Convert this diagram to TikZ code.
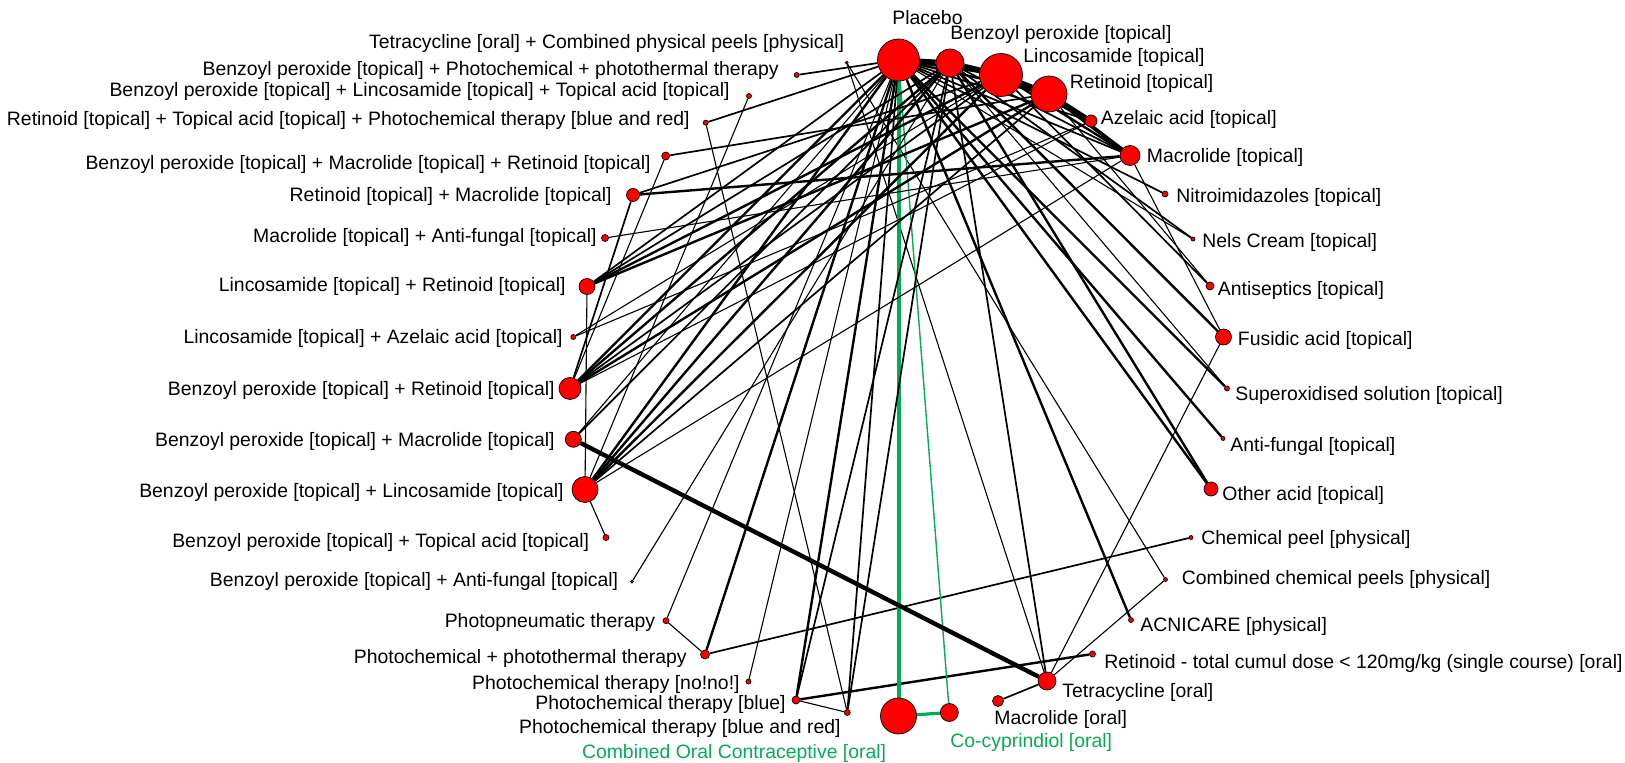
\documentclass[tikz,border=0pt]{standalone}
\usepackage{fontspec}
\setmainfont{Liberation Sans}
\usepackage{xcolor}
\definecolor{nwred}{RGB}{255,0,0}
\definecolor{nwgreen}{RGB}{0,176,80}
\usepackage{tikz}
\usetikzlibrary{backgrounds}
\newcommand{\trtfont}{\fontsize{9.7}{11}\selectfont}

\begin{document}
\begin{tikzpicture}[x=0.5pt, y=-0.5pt,
  trt/.style={circle, fill=nwred, draw=black, line width=0.35pt, inner sep=0pt, minimum size=#1},
  lbl/.style={font=\trtfont, inner sep=0pt},
  lbR/.style={lbl, anchor=west},
  lbL/.style={lbl, anchor=east},
  e1/.style={line width=0.55pt},
  e2/.style={line width=0.85pt},
  e3/.style={line width=1.2pt},
  e4/.style={line width=1.9pt},
  eg/.style={nwgreen}]
  \useasboundingbox (0,0) rectangle (1625,763);

  % --- Top hubs ---
  \node[trt=21pt] (P)  at (898.5,60)  {};
  \node[trt=14pt] (BP) at (950,63)    {};
  \node[trt=21.5pt] (L) at (1001,75)  {};
  \node[trt=18pt] (R)  at (1049,94)   {};
  \node[trt=6pt]  (Az) at (1091,121)  {};
  \node[trt=10pt] (M)  at (1130,155.5) {};
  \node[lbl] (P-l) at (927.5,17.5) {Placebo};
  \node[lbR] (BP-l) at (950,34.5)   {Benzoyl peroxide [topical]};
  \node[lbR] (L-l)  at (1023,57)    {Lincosamide [topical]};
  \node[lbR] (R-l)  at (1069.5,83)  {Retinoid [topical]};
  \node[lbR] (Az-l) at (1100.5,119.5) {Azelaic acid [topical]};
  \node[lbR] (M-l)  at (1146.5,157) {Macrolide [topical]};

  % --- Right side ---
  \node[trt=3pt]   (nit)   at (1165,194)    {};
  \node[trt=2pt]   (nel)   at (1193,239)    {};
  \node[trt=4pt]   (ant)   at (1210,286)    {};
  \node[trt=8pt]   (fus)   at (1223.5,337)  {};
  \node[trt=2.5pt] (sup)   at (1227,388.5)  {};
  \node[trt=2pt]   (aft)   at (1223,438.5)  {};
  \node[trt=7pt]   (oac)   at (1211,489)    {};
  \node[trt=2pt]   (cpeel) at (1191,537.5)  {};
  \node[trt=2pt]   (ccp)   at (1165.5,579.5) {};
  \node[trt=2.5pt] (acn)   at (1131,620)    {};
  \node[trt=3pt]   (rtot)  at (1092.5,654)  {};
  \node[trt=9pt]   (tetO)  at (1047,681)    {};
  \node[lbR] at (1176,197)    {Nitroimidazoles [topical]};
  \node[lbR] at (1202,242)    {Nels Cream [topical]};
  \node[lbR] at (1217.5,290)  {Antiseptics [topical]};
  \node[lbR] at (1237.5,340)  {Fusidic acid [topical]};
  \node[lbR] at (1235,395)    {Superoxidised solution [topical]};
  \node[lbR] at (1230,446.5)  {Anti-fungal [topical]};
  \node[lbR] at (1222,495.5)  {Other acid [topical]};
  \node[lbR] at (1201,539.5)  {Chemical peel [physical]};
  \node[lbR] at (1181.5,579)  {Combined chemical peels [physical]};
  \node[lbR] at (1140,626.5)  {ACNICARE [physical]};
  \node[lbR] at (1104,663)    {Retinoid - total cumul dose < 120mg/kg (single course) [oral]};
  \node[lbR] at (1062,692.5)  {Tetracycline [oral]};

  % --- Bottom ---
  \node[trt=5.5pt] (macO) at (998,701)     {};
  \node[trt=9pt]   (cocy) at (949.3,712.5) {};
  \node[trt=18pt]  (coc)  at (898.5,716)   {};
  \node[trt=3pt]   (pcbr) at (847.3,712.5) {};
  \node[trt=4pt]   (pcb)  at (796,700)     {};
  \node[trt=2.5pt] (nono) at (748.5,681.5) {};
  \node[trt=4.5pt] (pcpt) at (705,654.5)   {};
  \node[trt=3pt]   (ppn)  at (666,620.7)   {};
  \node[lbR] at (994,719.5) {Macrolide [oral]};
  \node[lbR, nwgreen] at (950,742) {Co-cyprindiol [oral]};
  \node[lbL, nwgreen] at (886.5,753) {Combined Oral Contraceptive [oral]};
  \node[lbL] at (841,728.5) {Photochemical therapy [blue and red]};
  \node[lbL] at (786,704.5) {Photochemical therapy [blue]};
  \node[lbL] at (740,684)   {Photochemical therapy [no!no!]};
  \node[lbL] at (687,658)   {Photochemical + photothermal therapy};
  \node[lbL] at (655.5,622) {Photopneumatic therapy};

  % --- Left side ---
  \node[trt=1.5pt] (bpaf) at (632,581.7)   {};
  \node[trt=3pt]   (bpta) at (606,537.5)   {};
  \node[trt=13pt]  (bpl)  at (585,489.5)   {};
  \node[trt=8pt]   (bpm)  at (573.3,439.3) {};
  \node[trt=11pt]  (bpr)  at (570,388.5)   {};
  \node[trt=2.5pt] (laz)  at (573.3,337)   {};
  \node[trt=8pt]   (lr)   at (587,286.5)   {};
  \node[trt=3.5pt] (maf)  at (605,238)     {};
  \node[trt=6.5pt] (rm)   at (633,195)     {};
  \node[trt=4pt]   (bpmr) at (665.7,156)   {};
  \node[trt=2.5pt] (rtap) at (705.7,122.7) {};
  \node[trt=2.5pt] (blta) at (749,96)      {};
  \node[trt=2.5pt] (bppt) at (796.7,75)    {};
  \node[trt=1.5pt] (tcp)  at (846.7,62.7)  {};
  \node[lbL] at (618.5,581) {Benzoyl peroxide [topical] + Anti-fungal [topical]};
  \node[lbL] at (589.5,542) {Benzoyl peroxide [topical] + Topical acid [topical]};
  \node[lbL] at (564,492.5) {Benzoyl peroxide [topical] + Lincosamide [topical]};
  \node[lbL] at (555,441)   {Benzoyl peroxide [topical] + Macrolide [topical]};
  \node[lbL] at (555,390)   {Benzoyl peroxide [topical] + Retinoid [topical]};
  \node[lbL] at (563,338)   {Lincosamide [topical] + Azelaic acid [topical]};
  \node[lbL] at (566,286)   {Lincosamide [topical] + Retinoid [topical]};
  \node[lbL] at (597,237)   {Macrolide [topical] + Anti-fungal [topical]};
  \node[lbL] at (612,196)   {Retinoid [topical] + Macrolide [topical]};
  \node[lbL] at (651,164.5) {Benzoyl peroxide [topical] + Macrolide [topical] + Retinoid [topical]};
  \node[lbL] at (690,120.5) {Retinoid [topical] + Topical acid [topical] + Photochemical therapy [blue and red]};
  \node[lbL] at (730,91)    {Benzoyl peroxide [topical] + Lincosamide [topical] + Topical acid [topical]};
  \node[lbL] at (779,70)    {Benzoyl peroxide [topical] + Photochemical + photothermal therapy};
  \node[lbL] at (844.5,43.5) {Tetracycline [oral] + Combined physical peels [physical]};

  % --- Connectors ---
  \begin{pgfonlayer}{background}
    % hubs
    \draw[line width=2.6pt] (P) -- (BP);
    \draw[line width=2.6pt] (BP) -- (L);
    \draw[line width=2.6pt] (L) -- (R);
    \draw[line width=2.2pt] (R) -- (Az);
    \draw[e3] (P) -- (L);  \draw[e3] (P) -- (R);  \draw[e3] (BP) -- (R);
    \draw[e3] (L) -- (Az); \draw[e2] (P) -- (Az);
    \draw[e4] (R) -- (M);  \draw[e3] (L) -- (M);  \draw[e2] (BP) -- (M); \draw[e2] (P) -- (M);
    % right side
    \draw[e2] (nit) -- (P);
    \draw[e2] (nel) -- (BP);  \draw[e1] (nel) -- (P);
    \draw[e2] (ant) -- (L);   \draw[e1] (ant) -- (R);
    \draw[e3] (fus) -- (BP);  \draw[e1] (fus) -- (M);  \draw[e1] (fus) -- (tetO);
    \draw[e3] (sup) -- (P);   \draw[e1] (sup) -- (BP);
    \draw[e3] (aft) -- (P);
    \draw[e3] (oac) -- (P);   \draw[e3] (oac) -- (BP);
    \draw[e2] (cpeel) -- (pcpt);
    \draw[e1] (ccp) -- (tcp); \draw[e1] (ccp) -- (tetO);
    \draw[e3] (acn) -- (P);
    \draw[e3] (rtot) -- (pcb);
    \draw[e2] (tetO) -- (BP); \draw[e1] (tetO) -- (tcp); \draw[e2] (tetO) -- (macO);
    % bottom
    \draw[eg, line width=2pt] (coc) -- (P);
    \draw[eg, line width=1.6pt] (coc) -- (cocy);
    \draw[eg, line width=0.7pt] (cocy) -- (P);
    \draw[e2] (pcbr) -- (P);  \draw[e2] (pcbr) -- (BP);
    \draw[e1] (pcbr) -- (pcb); \draw[e1] (pcbr) -- (rtap);
    \draw[e3] (pcb) -- (P);   \draw[e2] (pcb) -- (BP);
    \draw[e1] (nono) -- (P);
    \draw[e3] (pcpt) -- (P);  \draw[e1] (pcpt) -- (ppn);
    \draw[e1] (ppn) -- (P);
    % left side
    \draw[e1] (bpaf) -- (BP);
    \draw[e1] (bpta) -- (bpl);
    \draw[e3] (bpl) -- (P);  \draw[e3] (bpl) -- (BP); \draw[e3] (bpl) -- (L);
    \draw[e2] (bpl) -- (R);  \draw[e1] (bpl) -- (M);  \draw[e1] (bpl) -- (lr);
    \draw[e1] (bpl) -- (blta);
    \draw[line width=2.2pt] (bpm) -- (tetO);
    \draw[e1] (bpm) -- (P);  \draw[e2] (bpm) -- (BP);
    \draw[e3] (bpr) -- (P);  \draw[e3] (bpr) -- (BP); \draw[e2] (bpr) -- (L);
    \draw[e3] (bpr) -- (R);  \draw[e1] (bpr) -- (Az); \draw[e1] (bpr) -- (bpmr);
    \draw[e1] (laz) -- (Az); \draw[e1] (laz) -- (L);
    \draw[e3] (lr) -- (L);   \draw[e3] (lr) -- (R);  \draw[e2] (lr) -- (P); \draw[e2] (lr) -- (BP);
    \draw[e1] (maf) -- (M);
    \draw[e3] (rm) -- (M);   \draw[e2] (rm) -- (bpr); \draw[e2] (rm) -- (L);
    \draw[e2] (bpmr) -- (R);
    \draw[e2] (rtap) -- (P);
    \draw[e2] (bppt) -- (P);
  \end{pgfonlayer}
\end{tikzpicture}
\end{document}
